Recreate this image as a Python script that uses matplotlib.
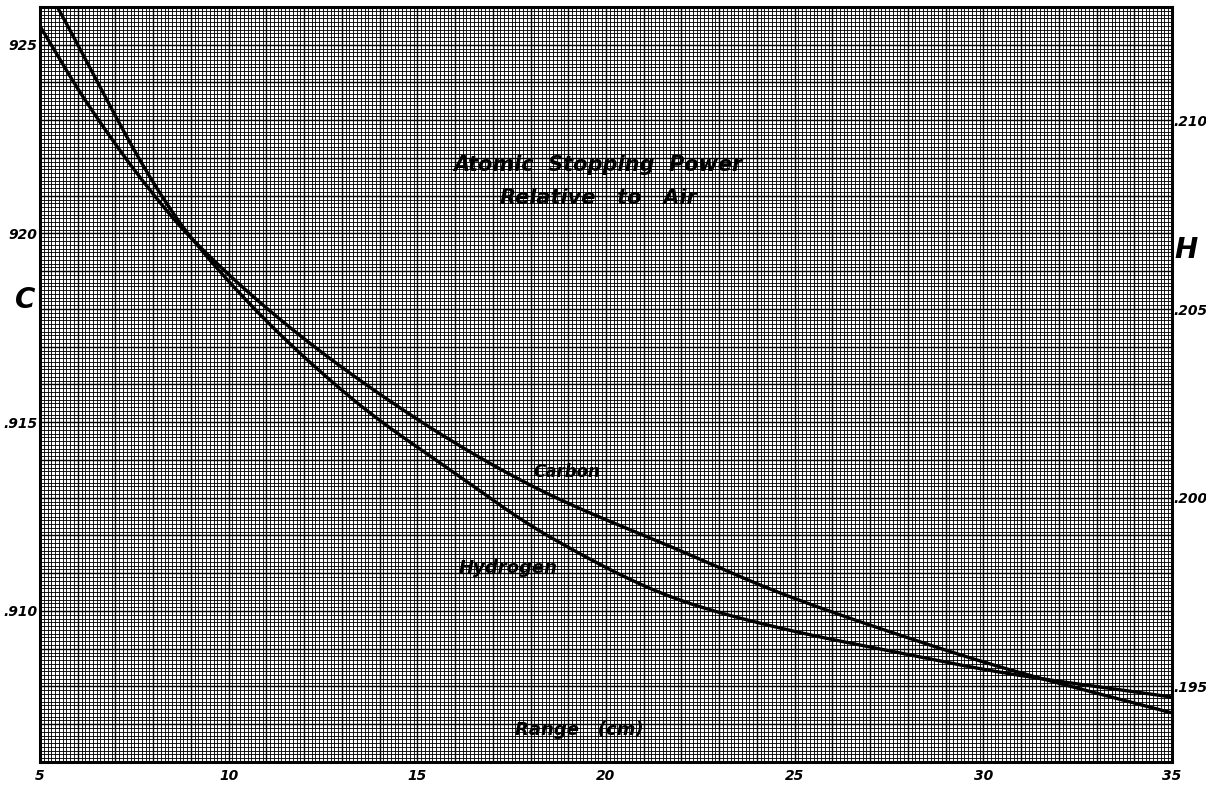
import matplotlib
matplotlib.use("Agg")
import matplotlib.pyplot as plt
from matplotlib.ticker import MultipleLocator, FuncFormatter
import numpy as np

# range in cm, stopping power
carbon_range = [4.947, 6.193, 7.915, 9.055, 13.216, 18.065, 21.961, 24.611,
                27.792, 30.442, 35.0]
carbon_power = [0.92558, 0.92354, 0.92115, 0.91983, 0.91630, 0.91330, 0.91160,
                0.91048, 0.90936, 0.90852, 0.90730]

hydrogen_range = [5.477, 8.18, 9.055, 13.216, 15.866, 18.516, 21.961, 24.611,
                  27.792, 30.442, 35.0]
hydrogen_power = [0.21297, 0.20807, 0.20683, 0.20267, 0.20074, 0.19896, 0.19729,
                  0.19655, 0.19589, 0.19538, 0.19472]

x_labels = [5, 10, 15, 20, 25, 30, 35]
c_labels = {0.925: "925", 0.920: "920", 0.915: ".915", 0.910: ".910"}
h_labels = {0.210: ".210", 0.205: ".205", 0.200: ".200", 0.195: ".195"}

c_lim = (0.906, 0.926)
h_offset = 0.713

font = dict(fontweight='bold', fontstyle='italic', family='DejaVu Sans')


def pchip(x, y, n=400):
    # monotone cubic (Fritsch-Carlson) through the read points
    x = np.asarray(x, float)
    y = np.asarray(y, float)
    h = np.diff(x)
    d = np.diff(y) / h
    m = np.zeros_like(y)
    for k in range(1, len(x) - 1):
        if d[k - 1] * d[k] > 0:
            w1 = 2 * h[k] + h[k - 1]
            w2 = h[k] + 2 * h[k - 1]
            m[k] = (w1 + w2) / (w1 / d[k - 1] + w2 / d[k])
    m[0] = d[0]
    m[-1] = d[-1]
    xs = np.linspace(x[0], x[-1], n)
    idx = np.clip(np.searchsorted(x, xs) - 1, 0, len(x) - 2)
    t = (xs - x[idx]) / h[idx]
    h00 = 2 * t ** 3 - 3 * t ** 2 + 1
    h10 = t ** 3 - 2 * t ** 2 + t
    h01 = -2 * t ** 3 + 3 * t ** 2
    h11 = t ** 3 - t ** 2
    ys = (h00 * y[idx] + h10 * h[idx] * m[idx] +
          h01 * y[idx + 1] + h11 * h[idx] * m[idx + 1])
    return xs, ys


fig = plt.figure(figsize=(12.06, 7.91), dpi=100)
ax = fig.add_axes([40 / 1206, 29 / 791, 1132 / 1206, 755 / 791])
ax.set_facecolor('white')
ax.set_xlim(5, 35)
ax.set_ylim(*c_lim)

ax.xaxis.set_major_locator(MultipleLocator(1))
ax.xaxis.set_minor_locator(MultipleLocator(0.1))
ax.yaxis.set_major_locator(MultipleLocator(0.001))
ax.yaxis.set_minor_locator(MultipleLocator(0.0001))
ax.grid(which='minor', color='black', linewidth=0.7, alpha=0.9)
ax.grid(which='major', color='black', linewidth=1.0)
ax.set_axisbelow(True)

ax.xaxis.set_major_formatter(FuncFormatter(
    lambda v, p: str(int(round(v))) if int(round(v)) in x_labels else ''))
ax.yaxis.set_major_formatter(FuncFormatter(
    lambda v, p: c_labels.get(round(v, 3), '')))
ax.tick_params(which='both', length=0, labelsize=10, pad=2)
ax.tick_params(axis='x', pad=5)
for lab in ax.get_xticklabels() + ax.get_yticklabels():
    lab.set_fontweight('bold')
    lab.set_fontstyle('italic')

for s in ax.spines.values():
    s.set_linewidth(2.2)

xs, ys = pchip(carbon_range, carbon_power)
ax.plot(xs, ys, color='black', linewidth=2.4, solid_capstyle='round')

ax2 = ax.twinx()
ax2.set_ylim(c_lim[0] - h_offset, c_lim[1] - h_offset)
ax2.yaxis.set_major_locator(MultipleLocator(0.001))
ax2.yaxis.set_major_formatter(FuncFormatter(
    lambda v, p: h_labels.get(round(v, 3), '')))
ax2.tick_params(length=0, labelsize=10, pad=1)
for lab in ax2.get_yticklabels():
    lab.set_fontweight('bold')
    lab.set_fontstyle('italic')
for s in ax2.spines.values():
    s.set_visible(False)

xs, ys = pchip(hydrogen_range, hydrogen_power)
ax2.plot(xs, ys, color='black', linewidth=2.4, solid_capstyle='round')

ax.text(19.8, 0.92181, 'Atomic  Stopping  Power', ha='center', va='center',
        fontsize=15, **font)
ax.text(19.8, 0.92094, 'Relative   to   Air', ha='center', va='center',
        fontsize=15, **font)
ax.text(18.95, 0.91368, 'Carbon', ha='center', va='center', fontsize=12, **font)
ax.text(17.4, 0.91114, 'Hydrogen', ha='center', va='center', fontsize=13, **font)
ax.text(19.3, 0.90685, 'Range   (cm)', ha='center', va='center', fontsize=13,
        **font)

fig.text(25 / 1206, 1 - 300 / 791, 'C', ha='center', va='center', fontsize=20,
         **font)
fig.text(1186 / 1206, 1 - 250 / 791, 'H', ha='center', va='center', fontsize=20,
         **font)

fig.savefig('out.png', dpi=100)
